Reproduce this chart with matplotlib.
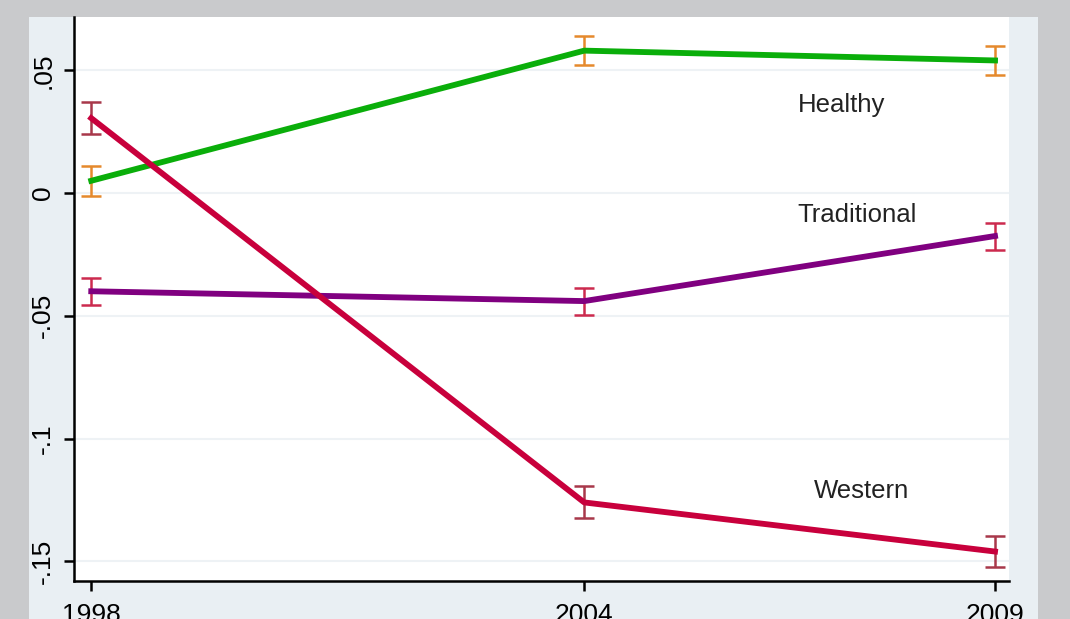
import matplotlib
matplotlib.use("Agg")
import matplotlib.pyplot as plt
from matplotlib.patches import Rectangle

# data
years = [1998, 2004, 2009]
healthy = [0.005, 0.058, 0.054]
healthy_err = [0.006, 0.006, 0.006]
traditional = [-0.040, -0.044, -0.0175]
traditional_err = [0.0055, 0.0055, 0.0055]
western = [0.0305, -0.126, -0.146]
western_err = [0.0065, 0.0065, 0.0065]
yticks = [-0.15, -0.1, -0.05, 0, 0.05]
ytick_labels = ["-.15", "-.1", "-.05", "0", ".05"]

plt.rcParams['font.family'] = ['Liberation Sans', 'DejaVu Sans']

W, H = 1070, 619
fig = plt.figure(figsize=(W/100, H/100), dpi=100)
fig.patch.set_facecolor('#c9cacc')
# light panel behind the plot
fig.patches.append(Rectangle((29/W, 0), (1038-29)/W, (H-17)/H, transform=fig.transFigure,
                             facecolor='#e9eff3', edgecolor='none', zorder=-5))

ax = fig.add_axes([74/W, (H-581)/H, (1009-74)/W, (581-17)/H])
ax.set_facecolor('white')

ax.errorbar(years, healthy, yerr=healthy_err, color='#0aae0a', lw=4.2, ecolor='#e5892c',
            elinewidth=1.8, capsize=7.5, capthick=1.8, zorder=3)
ax.errorbar(years, traditional, yerr=traditional_err, color='#800080', lw=4.2, ecolor='#cc2a4e',
            elinewidth=1.8, capsize=7.5, capthick=1.8, zorder=3)
ax.errorbar(years, western, yerr=western_err, color='#c8003c', lw=4.2, ecolor='#a8384a',
            elinewidth=1.8, capsize=7.5, capthick=1.8, zorder=3)

ax.text(2006.60, 0.0357, "Healthy", fontsize=18.5, color='#222222', va='center')
ax.text(2006.60, -0.009, "Traditional", fontsize=18.5, color='#222222', va='center')
ax.text(2006.79, -0.1214, "Western", fontsize=18.5, color='#222222', va='center')

ax.set_xlim(1997.79, 2009.17)
ax.set_ylim(-0.158, 0.0717)
ax.set_xticks(years)
ax.set_xticklabels([str(y) for y in years], fontsize=19)
ax.set_yticks(yticks)
ax.set_yticklabels(ytick_labels, fontsize=19, rotation=90, va='center')
ax.grid(axis='y', color='#eef2f5', lw=1.5)
ax.set_axisbelow(True)

for s in ['top', 'right']:
    ax.spines[s].set_visible(False)
for s in ['left', 'bottom']:
    ax.spines[s].set_linewidth(1.8)
    ax.spines[s].set_color('black')
ax.tick_params(axis='both', length=7.5, width=1.8, direction='out', pad=6)
ax.tick_params(axis='x', pad=8.5)

fig.savefig("out.png", dpi=100, facecolor=fig.get_facecolor())
